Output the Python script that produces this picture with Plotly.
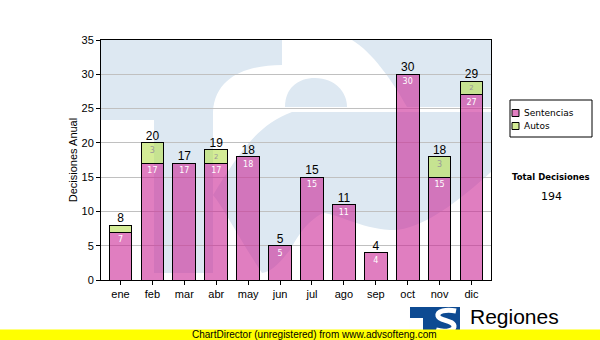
import plotly.graph_objects as go

# Monthly decisions
months = ["ene", "feb", "mar", "abr", "may", "jun", "jul", "ago", "sep", "oct", "nov", "dic"]
sentencias = [7, 17, 17, 17, 18, 5, 15, 11, 4, 30, 15, 27]
autos = [1, 3, 0, 2, 0, 0, 0, 0, 0, 0, 3, 2]
series_names = ["Sentencias", "Autos"]
y_ticks = [0, 5, 10, 15, 20, 25, 30, 35]

totals = [s + a for s, a in zip(sentencias, autos)]
grand_total = sum(totals)

W, H = 600, 340
L, R, T, B = 101, 491, 40, 280  # plot area in page pixels

PINK = "rgba(203,40,150,0.6)"
GREEN = "rgba(183,223,80,0.6)"
WM = "#dde8f2"
ARIAL = "Liberation Sans, Arial, sans-serif"
VERD = "DejaVu Sans, Verdana, sans-serif"


def px(x):
    return (x - L) / (R - L)


def py(y):
    return (B - y) / (B - T)


def pth(cmds):
    out = []
    for c in cmds:
        if isinstance(c, str):
            out.append(c)
        else:
            out.append(f"{px(c[0]):.4f},{py(c[1]):.4f}")
    return " ".join(out)


fig = go.Figure()

fig.add_trace(go.Bar(
    x=months, y=sentencias, name=series_names[0],
    marker=dict(color=PINK, line=dict(color="black", width=1)),
    text=[str(v) for v in sentencias], textposition="inside",
    insidetextanchor="end", textangle=0,
    textfont=dict(family=VERD, size=8, color="white"),
    hoverinfo="skip",
))
fig.add_trace(go.Bar(
    x=months, y=[a if a else None for a in autos], name=series_names[1],
    marker=dict(color=GREEN, line=dict(color="black", width=1)),
    text=[str(a) if a >= 2 else "" for a in autos], textposition="inside",
    insidetextanchor="end", textangle=0,
    textfont=dict(family=VERD, size=8, color="#999999"),
    hoverinfo="skip",
))
fig.add_trace(go.Scatter(
    x=months, y=totals, mode="text", text=[str(t) for t in totals],
    textposition="top center", textfont=dict(family=ARIAL, size=12, color="black"),
    showlegend=False, hoverinfo="skip", cliponaxis=False,
))

# watermark logo pieces behind the plot (page-pixel outlines)
wm_paths = [
    # T bar and stem
    ["M", (L, T), "L", (282, T), "L", (282, 65), "C", (250, 65), (215, 75), (213, 112),
     "L", (213, 273), "L", (154, 273), "L", (154, 120), "L", (L, 120), "Z"],
    # upper right block
    ["M", (352, T), "L", (R, T), "L", (R, 107), "L", (407, 107),
     "C", (392, 80), (372, 52), (352, T), "Z"],
    # upper lobe
    ["M", (285, 107), "C", (285, 88), (298, 78), (315, 78),
     "C", (335, 78), (347, 92), (347, 107), "Z"],
    # middle sweep
    ["M", (292, 112), "L", (R, 112), "L", (R, 172),
     "C", (460, 200), (420, 232), (390, 230), "C", (360, 228), (338, 214), (323, 213),
     "C", (305, 222), (296, 240), (290, 250), "C", (280, 262), (272, 272), (262, 273),
     "C", (240, 240), (225, 210), (213, 195),
     "C", (235, 160), (255, 125), (292, 112), "Z"],
]

shapes = []
for p in wm_paths:
    shapes.append(dict(type="path", xref="paper", yref="paper", layer="below",
                       path=pth(p), fillcolor=WM, line=dict(width=0)))

# legend box
shapes.append(dict(type="rect", xref="paper", yref="paper",
                   x0=px(510), x1=px(592), y0=py(137), y1=py(100),
                   line=dict(color="black", width=1), fillcolor="white"))
annotations = []
for i, (name, col) in enumerate(zip(series_names, [PINK, GREEN])):
    cy = 113 + 13 * i
    shapes.append(dict(type="rect", xref="paper", yref="paper",
                       x0=px(512), x1=px(519), y0=py(cy + 3.5), y1=py(cy - 3.5),
                       line=dict(color="black", width=1), fillcolor=col))
    annotations.append(dict(xref="paper", yref="paper", x=px(522), y=py(cy),
                            xanchor="left", yanchor="middle", text=name, showarrow=False,
                            font=dict(family=VERD, size=9, color="black")))

annotations.append(dict(xref="paper", yref="paper", x=px(551), y=py(177),
                        text="<b>Total Decisiones</b>", showarrow=False,
                        xanchor="center", yanchor="middle",
                        font=dict(family=VERD, size=8.5, color="black")))
annotations.append(dict(xref="paper", yref="paper", x=px(551), y=py(196),
                        text=str(grand_total), showarrow=False,
                        xanchor="center", yanchor="middle",
                        font=dict(family=VERD, size=11, color="black")))

# footer logo
shapes.append(dict(type="path", xref="paper", yref="paper",
                   path=pth(["M", (410, 307), "L", (460, 307), "L", (460, 340),
                             "L", (410, 340), "Z"]),
                   fillcolor="#0d4a92", line=dict(width=0)))
shapes.append(dict(type="path", xref="paper", yref="paper",
                   path=pth(["M", (410, 318), "L", (423, 318), "L", (423, 340),
                             "L", (410, 340), "Z"]),
                   fillcolor="white", line=dict(width=0)))
shapes.append(dict(type="path", xref="paper", yref="paper",
                   path=pth(["M", (456, 311), "C", (446, 309), (437, 311), (438, 316),
                             "C", (439, 321), (455, 320), (454, 327),
                             "C", (453, 332), (442, 332), (436, 330)]),
                   line=dict(color="white", width=5)))
annotations.append(dict(xref="paper", yref="paper", x=px(468), y=py(316),
                        text="Regiones", showarrow=False, xanchor="left", yanchor="middle",
                        font=dict(family=ARIAL, size=21, color="black")))
# yellow footer band
shapes.append(dict(type="rect", xref="paper", yref="paper",
                   x0=px(0), x1=px(W), y0=py(H), y1=py(329.5),
                   fillcolor="#ffff00", line=dict(width=0)))
annotations.append(dict(xref="paper", yref="paper", x=px(190), y=py(334.5),
                        text="ChartDirector (unregistered) from www.advsofteng.com",
                        showarrow=False, xanchor="left", yanchor="middle",
                        font=dict(family=ARIAL, size=10, color="black")))

fig.update_layout(
    width=W, height=H, autosize=False,
    margin=dict(l=L, r=W - R, t=T, b=H - B, pad=0),
    paper_bgcolor="white", plot_bgcolor="rgba(0,0,0,0)",
    barmode="stack", bargap=0.29, showlegend=False,
    shapes=shapes, annotations=annotations,
    font=dict(family=ARIAL, size=11, color="black"),
)
fig.update_xaxes(
    showline=True, linecolor="black", linewidth=1, mirror=True,
    ticks="outside", ticklen=4, tickcolor="black", showgrid=False,
    tickfont=dict(family=ARIAL, size=11, color="black"),
)
fig.update_yaxes(
    range=[0, 35], tickvals=y_ticks, showline=True, linecolor="black", linewidth=1,
    mirror=True, ticks="outside", ticklen=4, tickcolor="black",
    showgrid=True, gridcolor="#c0c0c0", gridwidth=1, zeroline=False,
    tickfont=dict(family=ARIAL, size=11, color="black"),
    title=dict(text="Decisiones Anual", standoff=1,
               font=dict(family=ARIAL, size=11, color="black")),
)

fig.write_html("out.html")
